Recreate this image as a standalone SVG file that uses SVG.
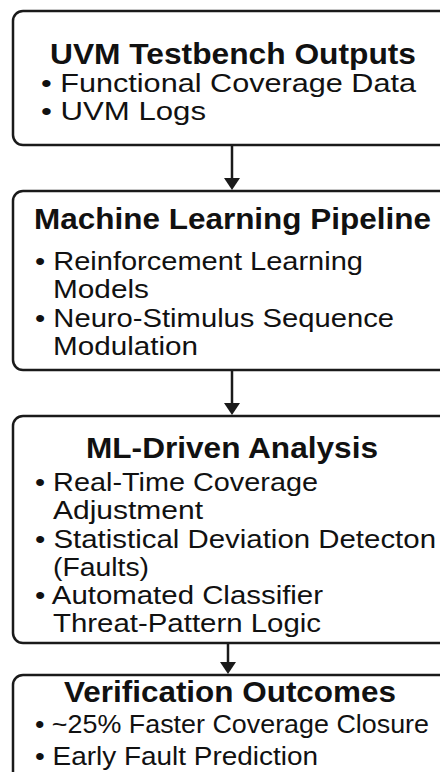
<svg xmlns="http://www.w3.org/2000/svg" width="440" height="772" viewBox="0 0 440 772">
<style>
.box{fill:#fff;stroke:#1a1a1a;stroke-width:2.5}
.t{font-family:"Liberation Sans",Arial,sans-serif;fill:#111}
.h{font-size:30px;font-weight:bold}
.b{font-size:26px}
.c{stroke:#1a1a1a;stroke-width:2.5;fill:none}
.ah{fill:#1a1a1a}
</style>
<rect width="440" height="772" fill="#fff"/>
<g id="connectors">
<line class="c" x1="232" y1="145" x2="232" y2="180"/>
<polygon class="ah" points="224,178 240,178 232,190"/>
<line class="c" x1="232" y1="370" x2="232" y2="405"/>
<polygon class="ah" points="224,403 240,403 232,415"/>
<line class="c" x1="228" y1="643" x2="228" y2="664"/>
<polygon class="ah" points="220,662 236,662 228,674"/>
</g>
<g id="node-uvm-outputs">
<rect class="box" x="13" y="11" width="450" height="134" rx="10"/>
<text class="t h" x="50" y="64" textLength="366" lengthAdjust="spacingAndGlyphs">UVM Testbench Outputs</text>
<text class="t b" x="41" y="92" textLength="375" lengthAdjust="spacingAndGlyphs">• Functional Coverage Data</text>
<text class="t b" x="41" y="120" textLength="165" lengthAdjust="spacingAndGlyphs">• UVM Logs</text>
</g>
<g id="node-ml-pipeline">
<rect class="box" x="13" y="191" width="450" height="179" rx="10"/>
<text class="t h" x="34" y="229" textLength="397" lengthAdjust="spacingAndGlyphs">Machine Learning Pipeline</text>
<text class="t b" x="35" y="270" textLength="328" lengthAdjust="spacingAndGlyphs">• Reinforcement Learning</text>
<text class="t b" x="53" y="298" textLength="96" lengthAdjust="spacingAndGlyphs">Models</text>
<text class="t b" x="35" y="327" textLength="359" lengthAdjust="spacingAndGlyphs">• Neuro-Stimulus Sequence</text>
<text class="t b" x="53" y="355" textLength="145" lengthAdjust="spacingAndGlyphs">Modulation</text>
</g>
<g id="node-ml-analysis">
<rect class="box" x="13" y="416" width="450" height="227" rx="10"/>
<text class="t h" x="86" y="458" textLength="292" lengthAdjust="spacingAndGlyphs">ML-Driven Analysis</text>
<text class="t b" x="35" y="491" textLength="283" lengthAdjust="spacingAndGlyphs">• Real-Time Coverage</text>
<text class="t b" x="53" y="519" textLength="150" lengthAdjust="spacingAndGlyphs">Adjustment</text>
<text class="t b" x="35" y="548" textLength="401" lengthAdjust="spacingAndGlyphs">• Statistical Deviation Detecton</text>
<text class="t b" x="53" y="576" textLength="96" lengthAdjust="spacingAndGlyphs">(Faults)</text>
<text class="t b" x="35" y="604" textLength="288" lengthAdjust="spacingAndGlyphs">• Automated Classifier</text>
<text class="t b" x="53" y="632" textLength="268" lengthAdjust="spacingAndGlyphs">Threat-Pattern Logic</text>
</g>
<g id="node-outcomes">
<rect class="box" x="13" y="675" width="450" height="130" rx="10"/>
<text class="t h" x="64" y="702" textLength="332" lengthAdjust="spacingAndGlyphs">Verification Outcomes</text>
<text class="t b" x="35" y="733" textLength="394" lengthAdjust="spacingAndGlyphs">• ~25% Faster Coverage Closure</text>
<text class="t b" x="35" y="765" textLength="283" lengthAdjust="spacingAndGlyphs">• Early Fault Prediction</text>
</g>
</svg>
